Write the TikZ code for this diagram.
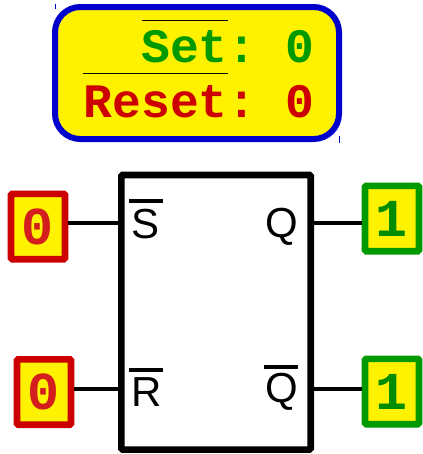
\documentclass[tikz,border=0pt]{standalone}
\usepackage{fontspec}
\setmainfont{Liberation Sans}
\newfontfamily\monobold{Liberation Mono Bold}
\usetikzlibrary{positioning}
\definecolor{panelblue}{HTML}{0000CC}
\definecolor{lowred}{HTML}{CC0000}
\definecolor{highgreen}{HTML}{009900}
\definecolor{digitred}{HTML}{D41E1E}
\definecolor{digitgreen}{HTML}{008C00}
\tikzstyle{panel} = [
    rectangle,
    rounded corners=19pt,
    line width=4.5pt,
    draw=panelblue,
    fill=yellow,
    minimum width=213pt,
    minimum height=99pt
]
\tikzstyle{status} = [
    anchor=base west,
    inner sep=0pt,
    font=\monobold\frenchspacing\fontsize{36}{36}\selectfont
]
\tikzstyle{flipflop} = [
    rectangle,
    rounded corners=1pt,
    line width=5pt,
    draw=black,
    minimum width=142pt,
    minimum height=206pt
]
\tikzstyle{lowbox} = [
    rectangle,
    rounded corners=1pt,
    line width=5pt,
    draw=lowred,
    fill=yellow,
    text=digitred,
    inner sep=0pt,
    minimum width=40.5pt,
    minimum height=49pt,
    font=\monobold\fontsize{40}{40}\selectfont
]
\tikzstyle{highbox} = [
    rectangle,
    rounded corners=1pt,
    line width=5pt,
    draw=highgreen,
    fill=yellow,
    text=digitgreen,
    inner sep=0pt,
    minimum width=40.5pt,
    minimum height=49pt,
    font=\monobold\fontsize{40}{40}\selectfont
]
\tikzstyle{pin} = [
    anchor=base west,
    inner sep=0pt,
    font=\fontsize{31.5}{31.5}\selectfont
]
\tikzstyle{wire} = [line width=3pt]
\tikzstyle{thinbar} = [line width=0.75pt]
\tikzstyle{thickbar} = [line width=3.2pt]
\tikzstyle{tick} = [line width=0.6pt, draw=panelblue]

\begin{document}
\begin{tikzpicture}[x=0.75pt, y=-0.75pt]
\useasboundingbox (0,0) rectangle (423,454);

\node (panel) [panel] at (197,73) {};
\draw [tick] (55,4) -- (55,9);
\draw [tick] (339,136) -- (339,143);

\node (setlabel) [status, text=highgreen] at (141,62) {Set: 0};
\node (resetlabel) [status, text=lowred] at (83.5,117) {Reset: 0};
\draw [thinbar] (142,20.5) -- (228,20.5);
\draw [thinbar] (83,73.5) -- (228,73.5);

\node (ff) [flipflop] at (216,312.25) {};

\node (sbox) [lowbox] at (38,226.5) {0};
\node (rbox) [lowbox] at (44,392) {0};
\node (qbox) [highbox] at (392,218.5) {1};
\node (nqbox) [highbox] at (392,391.5) {1};

\node (slabel) [pin] at (131,238) {S};
\node (rlabel) [pin] at (131,406) {R};
\node (qlabel) [pin] at (265,237) {Q};
\node (nqlabel) [pin] at (265,402) {Q};
\draw [thickbar] (129,201) -- (163,201);
\draw [thickbar] (129,370) -- (163,370);
\draw [thickbar] (264,367) -- (298,367);

\coordinate (spin) at (121.5,223);
\coordinate (rpin) at (121.5,389);
\coordinate (qpin) at (310.5,223);
\coordinate (nqpin) at (310.5,389);

\draw [wire] (sbox.east |- spin) -- (spin);
\draw [wire] (rbox.east |- rpin) -- (rpin);
\draw [wire] (qpin) -- (qbox.west |- qpin);
\draw [wire] (nqpin) -- (nqbox.west |- nqpin);

\end{tikzpicture}
\end{document}
